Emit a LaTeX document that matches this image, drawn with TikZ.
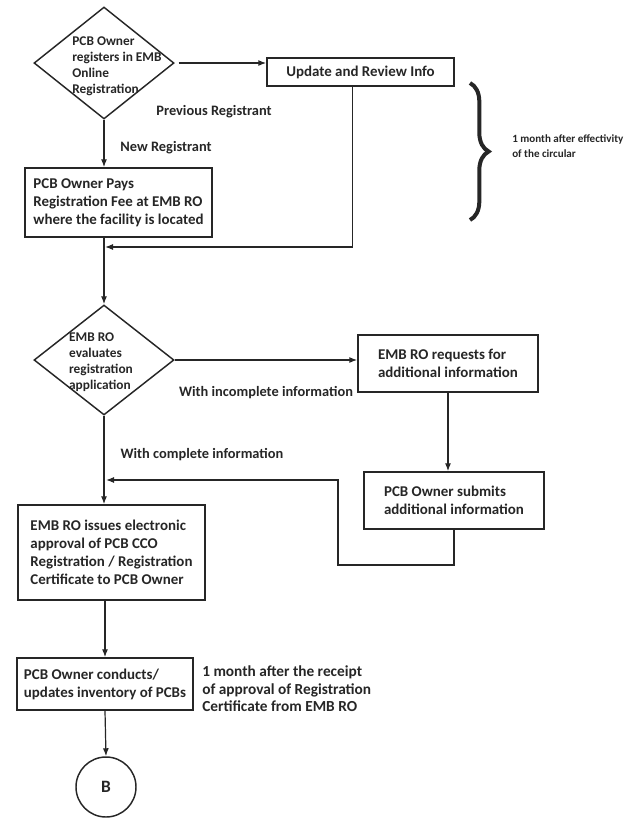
\documentclass[tikz,border=0pt]{standalone}
\usepackage{fontspec}
\setmainfont{Carlito}
\usetikzlibrary{shapes.geometric,arrows.meta,decorations.pathreplacing,calc}
\begin{document}
\begin{tikzpicture}[x=0.75pt,y=-0.75pt,
  box/.style={draw=black!85, line width=1.1pt, rectangle, align=left, inner sep=0pt,
    font=\bfseries\fontsize{11.2}{13.5}\selectfont, text=black!85},
  dia/.style={draw=black!85, line width=1.1pt, diamond, inner sep=0pt},
  diatext/.style={align=left, inner sep=0pt, font=\bfseries\fontsize{10}{12}\selectfont, text=black!85},
  arr/.style={draw=black!85, line width=0.9pt, -{Latex[length=6pt,width=4.5pt]}},
  lbl/.style={font=\bfseries\fontsize{10.8}{13}\selectfont, text=black!85, inner sep=0pt},
  note/.style={font=\bfseries\fontsize{8.3}{11}\selectfont, text=black!85, inner sep=0pt, align=left},
]
\useasboundingbox (0,0) rectangle (627,819);

% nodes
\node[dia, minimum width=105pt, minimum height=84pt] (d1) at (104,63) {};
\node[diatext] (d1t) at (117,66) {PCB Owner\\registers in EMB\\Online\\Registration};
\node[box, minimum width=140.25pt, minimum height=21pt] (upd) at (360.5,72) {Update and Review Info};
\node[box, minimum width=140.25pt, minimum height=51.75pt] (pay) at (118.5,202.5)
  {PCB Owner Pays\\Registration Fee at EMB RO\\where the facility is located};
\node[dia, minimum width=105pt, minimum height=82.5pt] (d2) at (104,360) {};
\node[diatext] (d2t) at (101,362) {EMB RO\\evaluates\\registration\\application};
\node[box, minimum width=135pt, minimum height=42.75pt] (req) at (448,363.5)
  {EMB RO requests for\\additional information};
\node[box, minimum width=135pt, minimum height=42.75pt] (sub) at (454,500.5)
  {PCB Owner submits\\additional information};
\node[box, minimum width=140.25pt, minimum height=71.25pt] (iss) at (111.5,552.5)
  {EMB RO issues electronic\\approval of PCB CCO\\Registration / Registration\\Certificate to PCB Owner};
\node[box, minimum width=132pt, minimum height=39pt] (inv) at (105,684)
  {PCB Owner conducts/\\updates inventory of PCBs};
\node[circle, draw=black!85, line width=1.1pt, minimum size=45pt, inner sep=0pt,
  font=\bfseries\fontsize{13}{15}\selectfont, text=black!85] (cb) at (106,787) {B};

% labels
\node[lbl] (l1) at (214,112) {Previous Registrant};
\node[lbl] (l2) at (166,148) {New Registrant};
\node[lbl] (l3) at (266,393) {With incomplete information};
\node[lbl] (l4) at (202,455) {With complete information};
\node[lbl, font=\bfseries\fontsize{11.5}{13}\selectfont, align=left, anchor=west] (l5) at (202,689)
  {1 month after the receipt\\of approval of Registration\\Certificate from EMB RO};
\node[note, anchor=west] (l6) at (512,146) {1 month after effectivity\\of the circular};

% helper coordinates
\coordinate (j1) at (105,247);
\coordinate (j2) at (106,480);
\coordinate (c1) at (338,565);

% connectors
\draw[arr, shorten <=3pt] (d1.east) -- (d1.east -| upd.west);
\draw[arr] (d1.south) -- (d1.south |- pay.north);
\draw[arr] ($(upd.south)+(-8,0)$) |- (j1);
\draw[arr] (pay.south -| d1.south) -- (d2.north);
\draw[arr] (d2.east) -- (d2.east -| req.west);
\draw[arr] (req.south) -- (req.south |- sub.north);
\draw[arr] (sub.south) |- (c1) |- (j2);
\draw[arr] (d2.south) -- (d2.south |- iss.north);
\draw[arr] (iss.south -| inv.north) -- (inv.north);
\draw[arr] (inv.south) -- (cb.north);

% brace
\draw[draw=black!85, line width=3pt, decorate, decoration={brace, amplitude=14pt}] (470,83) -- (470,220);
\end{tikzpicture}
\end{document}
